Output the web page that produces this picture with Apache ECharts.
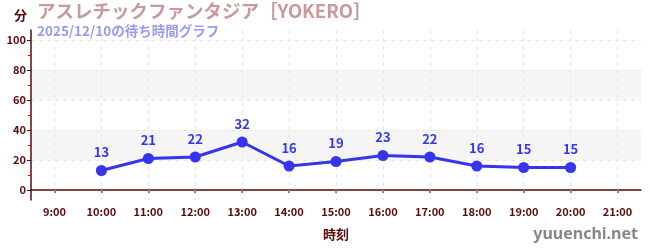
<!DOCTYPE html>
<html>
<head>
<meta charset="utf-8">
<script src="https://cdn.jsdelivr.net/npm/echarts@6/dist/echarts.min.js"></script>
<style>
html, body { margin: 0; padding: 0; background: #fff; }
#chart { width: 650px; height: 250px; }
</style>
</head>
<body>
<div id="chart"></div>
<script>
// 時刻(時)と待ち時間(分)
var hourTicks = [9, 10, 11, 12, 13, 14, 15, 16, 17, 18, 19, 20, 21];
var hours = [10, 11, 12, 13, 14, 15, 16, 17, 18, 19, 20];
var waitTimes = [13, 21, 22, 32, 16, 19, 23, 22, 16, 15, 15];
var yTicks = [0, 20, 40, 60, 80, 100];
var yMinorTicks = [10, 30, 50, 70, 90];

var titleText = 'アスレチックファンタジア［YOKERO］';
var subText = '2025/12/10の待ち時間グラフ';

var font = '"Noto Sans CJK JP", "Noto Sans", sans-serif';
var axisColor = '#5a0a0a';

var seriesData = hours.map(function (h, i) { return [h, waitTimes[i]]; });

var myChart = echarts.init(document.getElementById('chart'));
myChart.setOption({
    animation: false,
    textStyle: { fontFamily: font },
    title: {
        text: titleText,
        subtext: subText,
        left: 32,
        top: -3,
        itemGap: 4,
        textStyle: { color: '#c99a9a', fontSize: 18.5, fontWeight: 'bold', fontFamily: font },
        subtextStyle: { color: '#9a9af0', fontSize: 13.5, fontWeight: 'bold', fontFamily: font }
    },
    graphic: [{
        type: 'text',
        right: 12,
        bottom: 8,
        style: { text: 'yuuenchi.net', fill: '#888', font: 'bold 16px "Noto Sans", sans-serif' }
    }],
    grid: { left: 31, right: 9, top: 30, bottom: 50 },
    xAxis: {
        type: 'value',
        min: 8.5,
        max: 21.5,
        name: '時刻',
        nameLocation: 'middle',
        nameGap: 28,
        nameTextStyle: { color: axisColor, fontSize: 13, fontWeight: 'bold' },
        axisLine: { show: true, lineStyle: { color: axisColor, width: 1.5 } },
        axisTick: { show: true, customValues: hourTicks, length: 3, lineStyle: { color: '#888', width: 2 } },
        axisLabel: {
            customValues: hourTicks, color: axisColor, fontSize: 11, fontWeight: 'bold', margin: 6,
            formatter: function (v) { return v + ':00'; }
        },
        splitLine: { show: true, lineStyle: { color: '#e6e6e6', type: [4, 4] } }
    },
    yAxis: [{
        type: 'value',
        min: -6.67,
        max: 106.67,
        name: '分',
        nameLocation: 'end',
        nameGap: 8,
        nameTextStyle: { color: axisColor, fontSize: 13, fontWeight: 'bold', align: 'right', padding: [0, 4, 0, 0] },
        axisLine: { show: true, lineStyle: { color: axisColor, width: 1.5 } },
        axisTick: { show: true, customValues: yTicks, length: 4, lineStyle: { color: '#222' } },
        axisLabel: { customValues: yTicks, color: axisColor, fontSize: 11, fontWeight: 'bold', margin: 5 },
        splitLine: { show: true, lineStyle: { color: '#e6e6e6', type: [4, 4] } },
        splitArea: { show: true, areaStyle: { color: ['rgba(0,0,0,0)', '#f5f5f5'] } }
    }, {
        type: 'value',
        position: 'left',
        min: -6.67,
        max: 106.67,
        axisLine: { show: false },
        axisTick: { show: true, customValues: yMinorTicks, length: 3, lineStyle: { color: '#d00' } },
        axisLabel: { show: false },
        splitLine: { show: false }
    }],
    series: [{
        type: 'line',
        data: seriesData,
        symbol: 'circle',
        symbolSize: 11,
        lineStyle: { color: '#3535f0', width: 3 },
        itemStyle: { color: '#3535f0' },
        label: { show: true, position: 'top', distance: 6, color: '#3535f0', fontSize: 13, fontWeight: 'bold' }
    }]
});
</script>
</body>
</html>
